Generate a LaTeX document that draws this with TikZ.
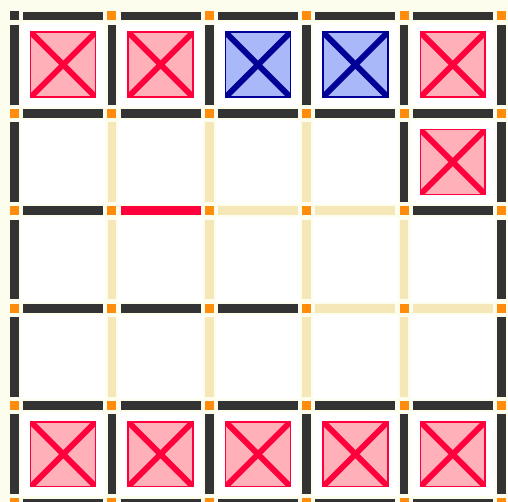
\documentclass[tikz,border=0pt]{standalone}
\usepackage{tikz}
\usetikzlibrary{calc}
\definecolor{cream}{RGB}{253,253,238}
\definecolor{wallgray}{RGB}{51,51,51}
\definecolor{wheat}{RGB}{245,231,184}
\definecolor{postorange}{RGB}{255,140,10}
\definecolor{hotred}{RGB}{255,0,60}
\definecolor{pinkfill}{RGB}{255,176,184}
\definecolor{navy}{RGB}{0,0,150}
\definecolor{skyfill}{RGB}{168,184,248}

\begin{document}
\begin{tikzpicture}[x=1cm, y=-1cm,
  wall/.style={draw=wallgray, line width=0.9mm},
  open/.style={draw=wheat, line width=0.9mm},
  hot/.style={draw=hotred, line width=0.9mm},
  xbox/.style={rectangle, minimum size=6.67mm, inner sep=0pt, line width=0.45pt, draw=#1,
    path picture={\draw[#1, line width=1.7pt]
      (path picture bounding box.north west) -- (path picture bounding box.south east)
      (path picture bounding box.north east) -- (path picture bounding box.south west);}},
  redx/.style={xbox=hotred, fill=pinkfill},
  bluex/.style={xbox=navy, fill=skyfill}
]
\fill[cream] (-0.149,-0.164) rectangle (5.067,4.990);
\useasboundingbox (-0.149,-0.164) rectangle (5.067,4.990);

% cells
\foreach \i in {0,...,4}
  \foreach \j in {0,...,4}
    \fill[white] (\i+0.067,\j+0.067) rectangle (\i+0.933,\j+0.933);

% horizontal walls
\foreach \j/\a/\b/\c/\d/\e in {0/wall/wall/wall/wall/wall, 1/wall/wall/wall/wall/wall,
    2/wall/hot/open/open/wall, 3/wall/wall/wall/open/open,
    4/wall/wall/wall/wall/wall, 5/wall/wall/wall/wall/wall}
  \foreach \s [count=\i from 0] in {\a,\b,\c,\d,\e}
    \draw[\s] (\i+0.09,\j) -- (\i+0.91,\j);

% vertical walls
\foreach \j/\a/\b/\c/\d/\e/\f in {0/wall/wall/wall/wall/wall/wall,
    1/wall/open/open/open/wall/wall, 2/wall/open/open/open/open/wall,
    3/wall/open/open/open/open/wall, 4/wall/wall/wall/wall/wall/wall}
  \foreach \s [count=\i from 0] in {\a,\b,\c,\d,\e,\f}
    \draw[\s] (\i,\j+0.09) -- (\i,\j+0.91);

% posts
\foreach \i in {0,...,5}
  \foreach \j in {0,...,5}
    \fill[postorange] (\i-0.046,\j-0.046) rectangle (\i+0.046,\j+0.046);
\fill[wallgray] (-0.046,-0.046) rectangle (0.046,0.046);

% boxes
\node[redx] (b00) at (0.5,0.5) {};
\node[redx] (b10) at (1.5,0.5) {};
\node[bluex] (b20) at (2.5,0.5) {};
\node[bluex] (b30) at (3.5,0.5) {};
\node[redx] (b40) at (4.5,0.5) {};
\node[redx] (b41) at (4.5,1.5) {};
\foreach \i in {0,...,4}
  \node[redx] (b\i4) at (\i+0.5,4.5) {};
\end{tikzpicture}
\end{document}
